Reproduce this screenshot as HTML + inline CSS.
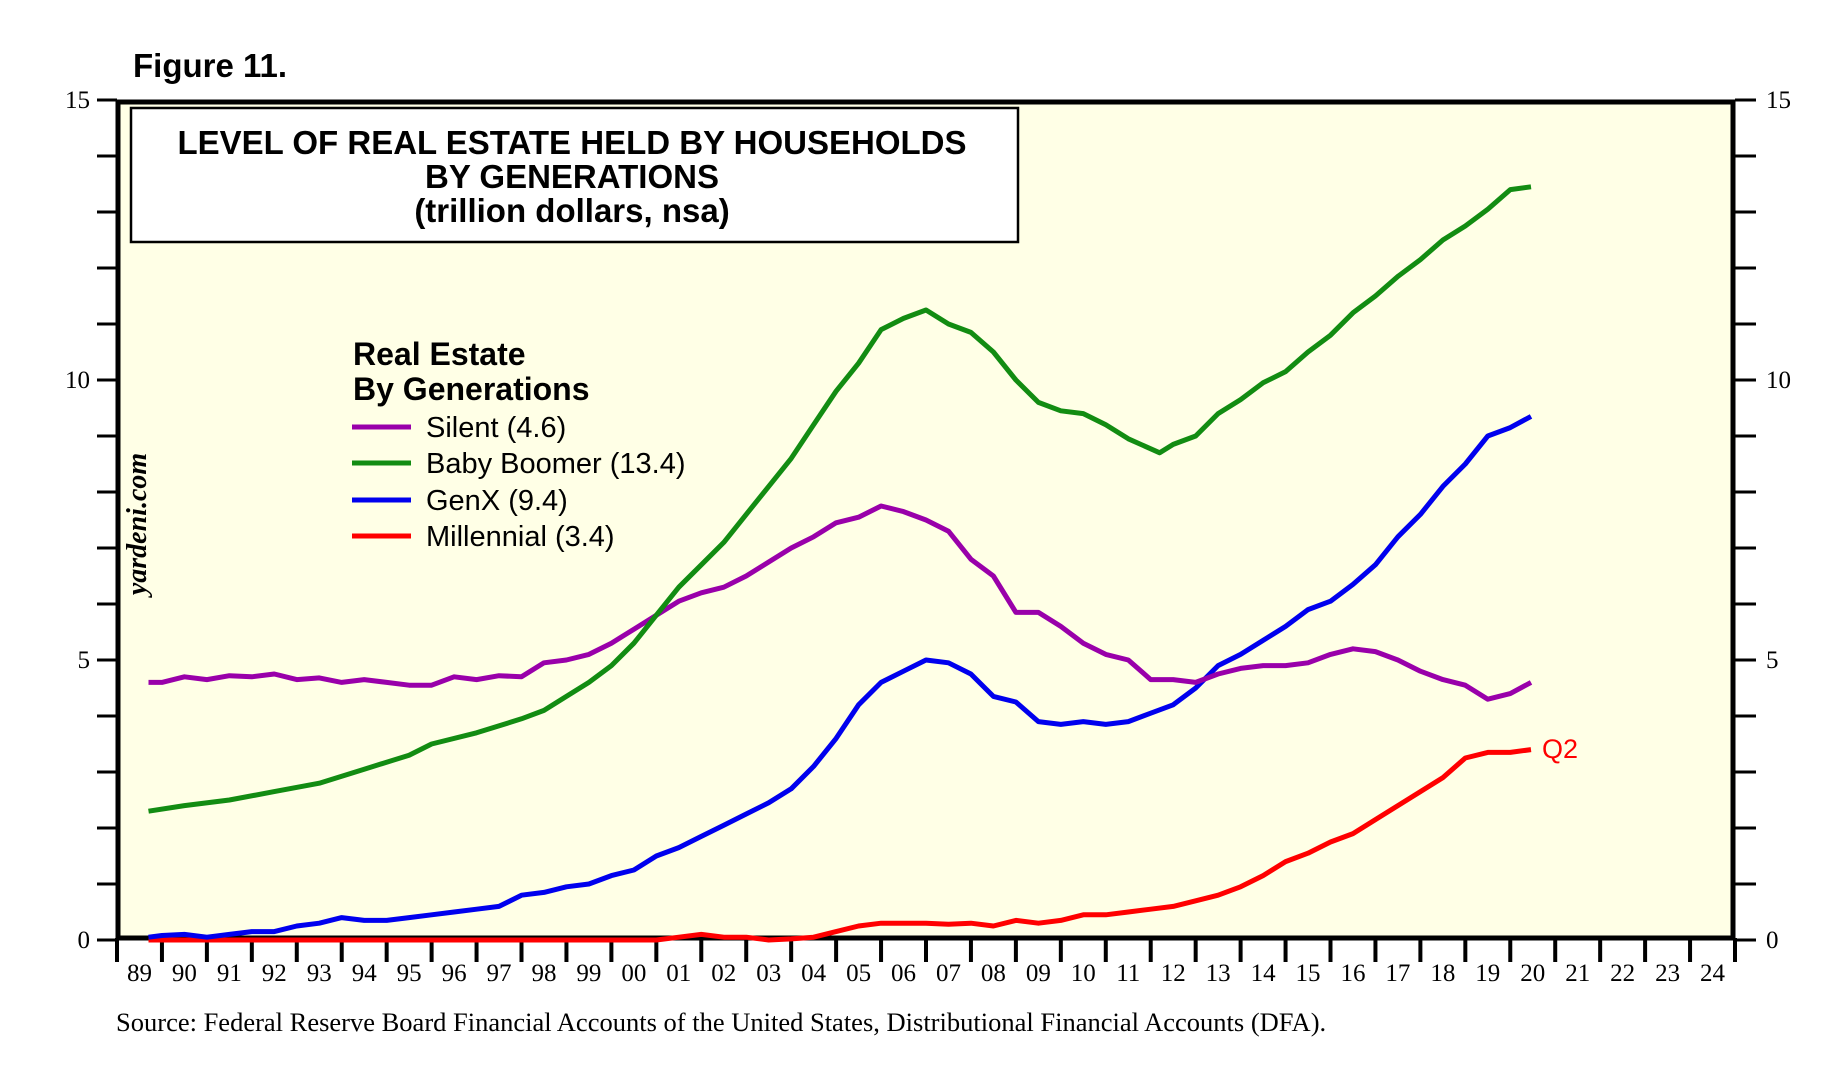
<!DOCTYPE html>
<html><head><meta charset="utf-8"><style>
body{margin:0;background:#fff;}
svg{display:block;}
</style></head><body>
<svg id="chart" width="1843" height="1075" xmlns="http://www.w3.org/2000/svg">
<text x="133" y="77" font-family="Liberation Sans, sans-serif" font-weight="bold" font-size="33">Figure 11.</text>
<rect x="118" y="102" width="1615" height="836" fill="#ffffe6" stroke="#000" stroke-width="5"/>
<g id="axes"></g>
<g id="series"></g>
<rect x="131" y="108" width="887" height="134" fill="#fff" stroke="#000" stroke-width="2.5"/>
<g font-family="Liberation Sans, sans-serif" font-weight="bold" font-size="33" text-anchor="middle">
<text x="572" y="154">LEVEL OF REAL ESTATE HELD BY HOUSEHOLDS</text>
<text x="572" y="188">BY GENERATIONS</text>
<text x="572" y="222">(trillion dollars, nsa)</text>
</g>
<g font-family="Liberation Sans, sans-serif">
<text x="353" y="365" font-weight="bold" font-size="32">Real Estate</text>
<text x="353" y="400" font-weight="bold" font-size="32">By Generations</text>
<g><line x1="352" y1="427" x2="411" y2="427" stroke="#9900aa" stroke-width="5"/><text x="426" y="437" font-size="29">Silent (4.6)</text></g>
<g><line x1="352" y1="463" x2="411" y2="463" stroke="#128c12" stroke-width="5"/><text x="426" y="473" font-size="29">Baby Boomer (13.4)</text></g>
<g><line x1="352" y1="500" x2="411" y2="500" stroke="#0000ee" stroke-width="5"/><text x="426" y="510" font-size="29">GenX (9.4)</text></g>
<g><line x1="352" y1="536" x2="411" y2="536" stroke="#ff0000" stroke-width="5"/><text x="426" y="546" font-size="29">Millennial (3.4)</text></g>
</g>
<text transform="translate(146,524) rotate(-90)" text-anchor="middle" font-family="Liberation Serif, serif" font-style="italic" font-weight="bold" font-size="28">yardeni.com</text>
<text x="1542" y="758" fill="#ff0000" font-family="Liberation Sans, sans-serif" font-size="27">Q2</text>
<text x="116" y="1031" font-family="Liberation Serif, serif" font-size="26.5">Source: Federal Reserve Board Financial Accounts of the United States, Distributional Financial Accounts (DFA).</text>
</svg>
<script>
const yearTicks=[89,90,91,92,93,94,95,96,97,98,99,0,1,2,3,4,5,6,7,8,9,10,11,12,13,14,15,16,17,18,19,20,21,22,23,24];
const yTickLabels=[0,5,10,15];
const silentX=[1989.7,1990,1990.5,1991,1991.5,1992,1992.5,1993,1993.5,1994,1994.5,1995,1995.5,1996,1996.5,1997,1997.5,1998,1998.5,1999,1999.5,2000,2000.5,2001,2001.5,2002,2002.5,2003,2003.5,2004,2004.5,2005,2005.5,2006,2006.5,2007,2007.5,2008,2008.5,2009,2009.5,2010,2010.5,2011,2011.5,2012,2012.5,2013,2013.5,2014,2014.5,2015,2015.5,2016,2016.5,2017,2017.5,2018,2018.5,2019,2019.5,2020,2020.46];
const silent=[4.6,4.6,4.7,4.65,4.72,4.7,4.75,4.65,4.68,4.6,4.65,4.6,4.55,4.55,4.7,4.65,4.72,4.7,4.95,5.0,5.1,5.3,5.55,5.8,6.05,6.2,6.3,6.5,6.75,7.0,7.2,7.45,7.55,7.75,7.65,7.5,7.3,6.8,6.5,5.85,5.85,5.6,5.3,5.1,5.0,4.65,4.65,4.6,4.75,4.85,4.9,4.9,4.95,5.1,5.2,5.15,5.0,4.8,4.65,4.55,4.3,4.4,4.6];
const boomerX=[1989.7,1990.5,1991.5,1992.5,1993.5,1994.5,1995.5,1996,1997,1998,1998.5,1999,1999.5,2000,2000.5,2001,2001.5,2002,2002.5,2003,2003.5,2004,2004.5,2005,2005.5,2006,2006.5,2007,2007.5,2008,2008.5,2009,2009.5,2010,2010.5,2011,2011.5,2012.2,2012.5,2013,2013.5,2014,2014.5,2015,2015.5,2016,2016.5,2017,2017.5,2018,2018.5,2019,2019.5,2020,2020.46];
const boomer=[2.3,2.4,2.5,2.65,2.8,3.05,3.3,3.5,3.7,3.95,4.1,4.35,4.6,4.9,5.3,5.8,6.3,6.7,7.1,7.6,8.1,8.6,9.2,9.8,10.3,10.9,11.1,11.25,11.0,10.85,10.5,10.0,9.6,9.45,9.4,9.2,8.95,8.7,8.85,9.0,9.4,9.65,9.95,10.15,10.5,10.8,11.2,11.5,11.85,12.15,12.5,12.75,13.05,13.4,13.45];
const genxX=silentX;
const genx=[0.05,0.08,0.1,0.05,0.1,0.15,0.15,0.25,0.3,0.4,0.35,0.35,0.4,0.45,0.5,0.55,0.6,0.8,0.85,0.95,1.0,1.15,1.25,1.5,1.65,1.85,2.05,2.25,2.45,2.7,3.1,3.6,4.2,4.6,4.8,5.0,4.95,4.75,4.35,4.25,3.9,3.85,3.9,3.85,3.9,4.05,4.2,4.5,4.9,5.1,5.35,5.6,5.9,6.05,6.35,6.7,7.2,7.6,8.1,8.5,9.0,9.15,9.35];
const millX=[1989.7,2001,2001.5,2002,2002.5,2003,2003.5,2004,2004.5,2005,2005.5,2006,2006.5,2007,2007.5,2008,2008.5,2009,2009.5,2010,2010.5,2011,2011.5,2012,2012.5,2013,2013.5,2014,2014.5,2015,2015.5,2016,2016.5,2017,2017.5,2018,2018.5,2019,2019.5,2020,2020.46];
const mill=[0,0,0.05,0.1,0.05,0.05,0,0.02,0.05,0.15,0.25,0.3,0.3,0.3,0.28,0.3,0.25,0.35,0.3,0.35,0.45,0.45,0.5,0.55,0.6,0.7,0.8,0.95,1.15,1.4,1.55,1.75,1.9,2.15,2.4,2.65,2.9,3.25,3.35,3.35,3.4];

const NS='http://www.w3.org/2000/svg';
const X0=117,X1=1735,Y0=940,Y1=100;
function xs(y){return X0+(y-1989)*(X1-X0)/36;}
function ys(v){return Y0-v*(Y0-Y1)/15;}
function mk(tag,attrs,parent){const e=document.createElementNS(NS,tag);for(const k in attrs)e.setAttribute(k,attrs[k]);parent.appendChild(e);return e;}
const ax=document.getElementById('axes');
for(let v=0;v<=15;v++){
  const l=mk('line',{x1:97,x2:117,y1:ys(v),y2:ys(v),stroke:'#000','stroke-width':3},ax);
  
  
  const r=mk('line',{x1:1735,x2:1756,y1:ys(v),y2:ys(v),stroke:'#000','stroke-width':3},ax);
  
  
}
yTickLabels.forEach(v=>{
  const t=mk('text',{x:90,y:ys(v)+8,'text-anchor':'end','font-family':'Liberation Serif, serif','font-size':25},ax);
  t.textContent=v;
  
  
  const t2=mk('text',{x:1766,y:ys(v)+8,'font-family':'Liberation Serif, serif','font-size':25},ax);
  t2.textContent=v;
  
  
});
for(let i=0;i<=36;i++){
  const l=mk('line',{x1:xs(1989+i),x2:xs(1989+i),y1:938,y2:962,stroke:'#000','stroke-width':4},ax);
  
  
}
yearTicks.forEach((lab,i)=>{
  const t=mk('text',{x:xs(1989+i+0.5),y:981,'text-anchor':'middle','font-family':'Liberation Serif, serif','font-size':25},ax);
  t.textContent=String(lab).padStart(2,'0');
  
  
});
const sg=document.getElementById('series');
function line(xsArr,vals,color,name){
  const d=xsArr.map((x,i)=>(i?'L':'M')+xs(x).toFixed(1)+','+ys(vals[i]).toFixed(1)).join('');
  const p=mk('path',{d:d,fill:'none',stroke:color,'stroke-width':5,'stroke-linejoin':'round'},sg);
  
  
}
line(millX,mill,'#ff0000','millennial-line');
line(genxX,genx,'#0000ee','genx-line');
line(silentX,silent,'#9900aa','silent-line');
line(boomerX,boomer,'#128c12','baby-boomer-line');
</script>
</body></html>
